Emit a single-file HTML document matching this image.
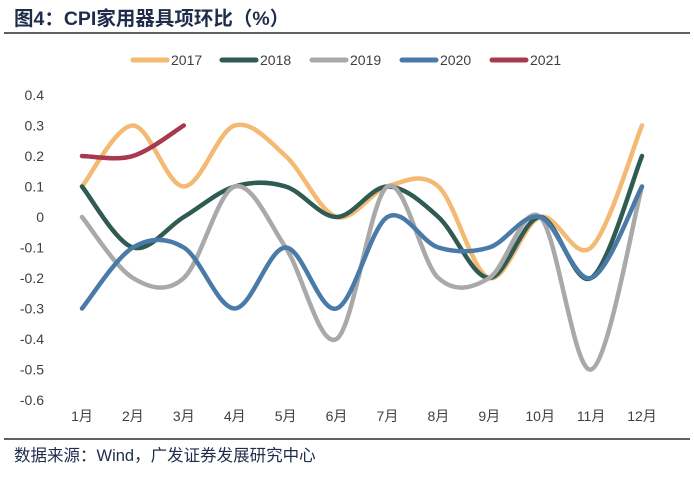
<!DOCTYPE html>
<html><head><meta charset="utf-8"><style>
body{margin:0;background:#fff;width:694px;height:474px;overflow:hidden;font-family:"Liberation Sans","Noto Sans CJK SC",sans-serif}
</style></head><body>
<svg width="694" height="474">
<text x="14" y="25" font-size="19.5" font-weight="bold" fill="#1F2D4B" font-family="Liberation Sans, Noto Sans CJK SC, sans-serif">图4：CPI家用器具项环比（%）</text>
<line x1="4" y1="33" x2="690" y2="33" stroke="#000" stroke-width="1.2"/>
<line x1="4" y1="439" x2="690" y2="439" stroke="#000" stroke-width="1.2"/>
<text x="14" y="461" font-size="16.5" fill="#1F2D4B">数据来源：Wind，广发证券发展研究中心</text>
<g id="legend"></g><g id="yaxis"></g><g id="xaxis"></g><g id="series"></g>
</svg>
<script>
const categories=["1月","2月","3月","4月","5月","6月","7月","8月","9月","10月","11月","12月"];
const yTicks=[0.4,0.3,0.2,0.1,0,-0.1,-0.2,-0.3,-0.4,-0.5,-0.6];
const seriesNames=["2017","2018","2019","2020","2021"];
const seriesColors=["#F4B973","#2F5B52","#A9A9A9","#4A7BA8","#A73A4F"];
const s2017=[0.1,0.3,0.1,0.3,0.2,0,0.1,0.1,-0.2,0,-0.1,0.3];
const s2018=[0.1,-0.1,0,0.1,0.1,0,0.1,0,-0.2,0,-0.2,0.2];
const s2019=[0,-0.2,-0.2,0.1,-0.1,-0.4,0.1,-0.2,-0.2,0,-0.5,0.1];
const s2020=[-0.3,-0.1,-0.1,-0.3,-0.1,-0.3,0,-0.1,-0.1,0,-0.2,0.1];
const s2021=[0.2,0.2,0.3];
const allSeries=[s2017,s2018,s2019,s2020,s2021];
const NS="http://www.w3.org/2000/svg";
const x=i=>82+i*(642-82)/11;
const y=v=>217-v*305;
function mk(t,a,p){const e=document.createElementNS(NS,t);for(const k in a)e.setAttribute(k,a[k]);p.appendChild(e);return e;}
const ya=document.getElementById('yaxis');
yTicks.forEach(v=>{const t=mk('text',{x:44,y:y(v)+5,'text-anchor':'end','font-size':14,fill:'#404040'},ya);


t.textContent=String(v);});
const xa=document.getElementById('xaxis');
categories.forEach((c,i)=>{const t=mk('text',{x:x(i),y:421,'text-anchor':'middle','font-size':14,fill:'#404040'},xa);


t.textContent=c;});
const sg=document.getElementById('series');
allSeries.forEach((d,si)=>{
 const p=d.map((v,i)=>[x(i),y(v)]);
 let s=`M${p[0][0]},${p[0][1]}`;
 for(let i=0;i<p.length-1;i++){const p0=p[i-1]||p[i],p1=p[i],p2=p[i+1],p3=p[i+2]||p2;
  const c1=[p1[0]+(p2[0]-p0[0])/6,p1[1]+(p2[1]-p0[1])/6],c2=[p2[0]-(p3[0]-p1[0])/6,p2[1]-(p3[1]-p1[1])/6];
  s+=` C${c1[0]},${c1[1]} ${c2[0]},${c2[1]} ${p2[0]},${p2[1]}`;}
 const e=mk('path',{d:s,fill:'none',stroke:seriesColors[si],'stroke-width':4.5,'stroke-linecap':'round'},sg);
 
 
});
const lg=document.getElementById('legend');
const lx=[133,222,312,402,492];
seriesNames.forEach((n,i)=>{
 const g=mk('g',{},lg);
 
 
 mk('line',{x1:lx[i],y1:60,x2:lx[i]+34,y2:60,stroke:seriesColors[i],'stroke-width':5,'stroke-linecap':'round'},g);
 const t=mk('text',{x:lx[i]+38,y:65,'font-size':14,fill:'#404040'},g);t.textContent=n;
});
</script>
</body></html>
